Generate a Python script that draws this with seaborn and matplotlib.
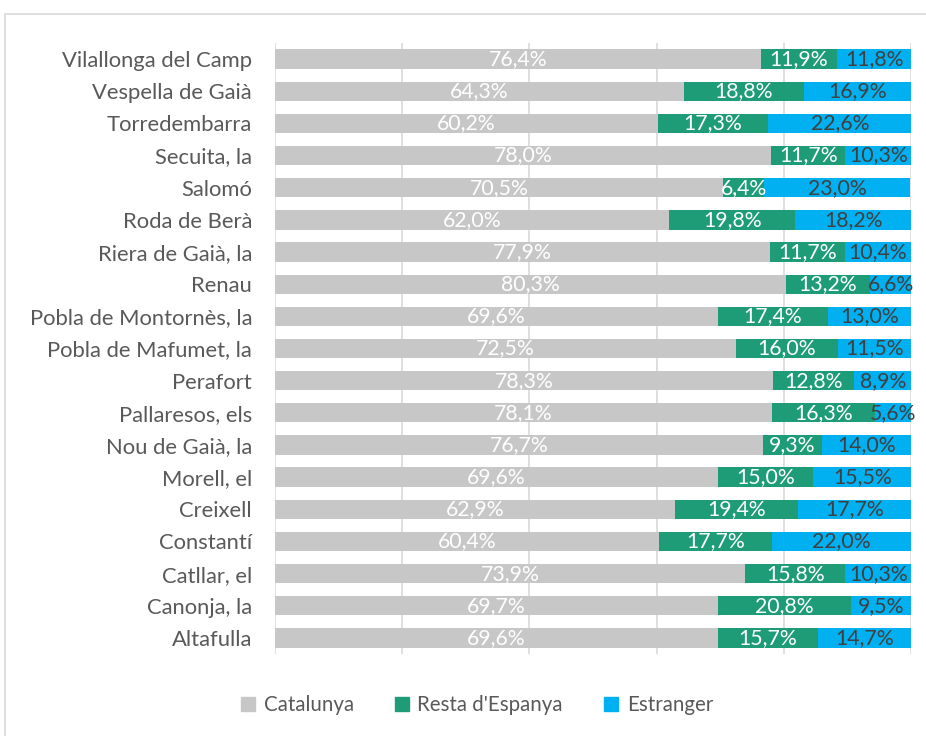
import matplotlib
matplotlib.use("Agg")
import matplotlib.pyplot as plt
import matplotlib.patches as mpatches
import seaborn as sns
import pandas as pd
import numpy as np

municipis = ["Vilallonga del Camp", "Vespella de Gaià", "Torredembarra", "Secuita, la",
             "Salomó", "Roda de Berà", "Riera de Gaià, la", "Renau",
             "Pobla de Montornès, la", "Pobla de Mafumet, la", "Perafort",
             "Pallaresos, els", "Nou de Gaià, la", "Morell, el", "Creixell",
             "Constantí", "Catllar, el", "Canonja, la", "Altafulla"]
catalunya = [76.4, 64.3, 60.2, 78.0, 70.5, 62.0, 77.9, 80.3, 69.6, 72.5, 78.3,
             78.1, 76.7, 69.6, 62.9, 60.4, 73.9, 69.7, 69.6]
resta = [11.9, 18.8, 17.3, 11.7, 6.4, 19.8, 11.7, 13.2, 17.4, 16.0, 12.8,
         16.3, 9.3, 15.0, 19.4, 17.7, 15.8, 20.8, 15.7]
estranger = [11.8, 16.9, 22.6, 10.3, 23.0, 18.2, 10.4, 6.6, 13.0, 11.5, 8.9,
             5.6, 14.0, 15.5, 17.7, 22.0, 10.3, 9.5, 14.7]
series = ["Catalunya", "Resta d'Espanya", "Estranger"]

c_gray = "#C7C7C7"
c_green = "#1E9C78"
c_blue = "#00B0F0"

df = pd.DataFrame({"municipi": municipis, "cat": catalunya, "resta": resta, "estr": estranger})
df["c1"] = df["cat"]
df["c2"] = df["cat"] + df["resta"]
df["c3"] = df["c2"] + df["estr"]

sns.set_style("white")
plt.rcParams["font.family"] = ["Lato", "DejaVu Sans"]

fig = plt.figure(figsize=(9.26, 7.36), dpi=100)
ax = fig.add_axes([275/926, 1-654/736, (911-275)/926, (654-43)/736])

for col, color in [("c3", c_blue), ("c2", c_green), ("c1", c_gray)]:
    sns.barplot(data=df, x=col, y="municipi", color=color, width=0.6, ax=ax,
                saturation=1, linewidth=0, zorder=3)

ax.set_xlim(0, 100)
ax.set_ylim(18.5, -0.5)
ax.set_xticks([0, 20, 40, 60, 80, 100])
ax.set_xticklabels([])
ax.tick_params(axis="x", length=0)
ax.tick_params(axis="y", length=0, pad=16.5, labelsize=15.8, labelcolor="#595959")
ax.grid(axis="x", color="#D9D9D9", linewidth=1.2, zorder=0)
ax.set_axisbelow(True)
for s in ax.spines.values():
    s.set_visible(False)
ax.set_xlabel("")
ax.set_ylabel("")

def fmt(v):
    return f"{v:.1f}%".replace(".", ",")

fs = 15.3
for i in range(len(df)):
    c, r, e = df.loc[i, "cat"], df.loc[i, "resta"], df.loc[i, "estr"]
    ax.text(c/2, i, fmt(c), ha="center", va="center", color="white", fontsize=fs, zorder=5)
    ax.text(c + r/2, i, fmt(r), ha="center", va="center", color="white", fontsize=fs, zorder=5)
    ax.text(c + r + e/2, i, fmt(e), ha="center", va="center", color="#404040", fontsize=fs,
            zorder=5, clip_on=False)

handles = [mpatches.Patch(color=c, label=l) for c, l in zip([c_gray, c_green, c_blue], series)]
fig.legend(handles=handles, loc="center", bbox_to_anchor=(477/926, 1-705/736), ncol=3,
           frameon=False, fontsize=14.8, handlelength=0.7, handleheight=0.7,
           handletextpad=0.4, columnspacing=2.0, labelcolor="#595959")

border = mpatches.Rectangle((5/926, -0.01), 1.0, 1-14/736+0.01, transform=fig.transFigure,
                            fill=False, edgecolor="#D9D9D9", linewidth=1.2)
fig.patches.append(border)

fig.savefig("out.png", dpi=100, facecolor="white")
